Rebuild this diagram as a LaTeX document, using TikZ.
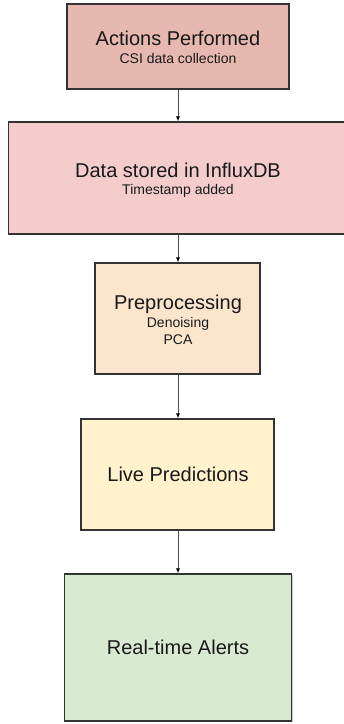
\documentclass[tikz,border=0pt]{standalone}
\usepackage{fontspec}
\setmainfont{Liberation Sans}
\usetikzlibrary{shadows,arrows.meta}
\definecolor{cA}{HTML}{E6B8AF}
\definecolor{cB}{HTML}{F4CCCC}
\definecolor{cC}{HTML}{FCE5CD}
\definecolor{cD}{HTML}{FFF2CC}
\definecolor{cE}{HTML}{D9EAD3}
\definecolor{edge}{HTML}{333333}
\tikzset{
  box/.style={draw=edge, line width=1.1pt, rectangle, inner sep=0pt,
    drop shadow={shadow xshift=1pt, shadow yshift=-1.2pt, opacity=0.35, fill=black!60}},
  bigtxt/.style={anchor=base, inner sep=0pt, text=black!90, font=\fontsize{20}{22}\selectfont},
  smalltxt/.style={anchor=base, inner sep=0pt, text=black!90, font=\fontsize{14}{16}\selectfont},
  conn/.style={draw=black!70, line width=1pt, -{Latex[length=5pt,width=4pt,black]}}
}
\begin{document}
\begin{tikzpicture}[x=1pt,y=-1pt]
\useasboundingbox (0,0) rectangle (344,724);
\begin{scope}
\clip (0,0) rectangle (344,724);
\node[box, fill=cA, minimum width=222pt, minimum height=85pt] (b1) at (178,46.5) {};
\node[box, fill=cB, minimum width=340pt, minimum height=112pt] (b2) at (178.5,178) {};
\node[box, fill=cC, minimum width=165pt, minimum height=111pt] (b3) at (177.5,318.5) {};
\node[box, fill=cD, minimum width=193pt, minimum height=111pt] (b4) at (177.5,474.5) {};
\node[box, fill=cE, minimum width=227pt, minimum height=147pt] (b5) at (178,647.5) {};
\end{scope}

\node[bigtxt] (t1) at (178,45) {Actions Performed};
\node[smalltxt] (s1) at (178,63) {CSI data collection};
\node[bigtxt] (t2) at (178,177) {Data stored in InfluxDB};
\node[smalltxt] (s2) at (178,194) {Timestamp added};
\node[bigtxt] (t3) at (178,309) {Preprocessing};
\node[smalltxt] (s3a) at (178,327.5) {Denoising};
\node[smalltxt] (s3b) at (178,344) {PCA};
\node[bigtxt] (t4) at (178,481) {Live Predictions};
\node[bigtxt] (t5) at (178,654) {Real-time Alerts};

\draw[conn] (b1.south -| 178,0) -- (b2.north -| 178,0);
\draw[conn] (b2.south -| 178,0) -- (b3.north -| 178,0);
\draw[conn] (b3.south -| 178,0) -- (b4.north -| 178,0);
\draw[conn] (b4.south -| 178,0) -- (b5.north -| 178,0);
\end{tikzpicture}
\end{document}
